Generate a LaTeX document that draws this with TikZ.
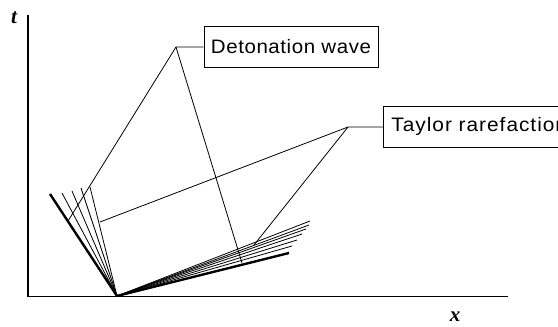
\documentclass[tikz,border=0pt]{standalone}
\usepackage{fontspec}
\newfontfamily\labfont[FakeStretch=1.05,LetterSpace=3]{Liberation Sans}
\newfontfamily\labfontw[FakeStretch=1.07,LetterSpace=5]{Liberation Sans}
\newfontfamily\axfont{Liberation Serif}
\begin{document}
\begin{tikzpicture}[x=1pt,y=-1pt,
  axisline/.style={line width=1.4pt},
  thickray/.style={line width=2.4pt},
  thinray/.style={line width=0.8pt},
  leader/.style={line width=0.8pt},
  labelbox/.style={draw,line width=0.9pt,font=\labfont\fontsize{19.5}{22}\selectfont,minimum height=41pt,inner xsep=6pt,inner ysep=0pt},
  axlabel/.style={font=\axfont\bfseries\itshape\fontsize{21}{23}\selectfont,inner sep=0pt}]
\useasboundingbox (0,0) rectangle (558,327);
\clip (0,0) rectangle (558,327);
% axes
\coordinate (tTop) at (28,15);
\coordinate (orig) at (28,296.5);
\coordinate (xEnd) at (508,296.5);
\draw[axisline] (tTop) -- (orig) -- (xEnd);
\node[axlabel] (tlab) at (14,18) {t};
\node[axlabel] (xlab) at (455,317) {x};
% fan origin
\coordinate (O) at (117,296);
% left fan
\coordinate (L0) at (50,194);
\coordinate (L1) at (62,193);
\coordinate (L2) at (72,191);
\coordinate (L3) at (81,188);
\coordinate (L4) at (90,187);
\draw[thickray] (O) -- (L0);
\foreach \p in {L1,L2,L3,L4} \draw[thinray] (O) -- (\p);
% right fan
\coordinate (R0) at (289,253);
\coordinate (R1) at (292,246);
\coordinate (R2) at (297,240);
\coordinate (R3) at (302,234);
\coordinate (R4) at (306,229);
\coordinate (R5) at (309,225);
\coordinate (R6) at (310,221);
\draw[thickray] (O) -- (R0);
\foreach \p in {R1,R2,R3,R4,R5,R6} \draw[thinray] (O) -- (\p);
% labels
\node[labelbox,minimum width=174pt] (det) at (291,46.5) {Detonation wave};
\node[labelbox,anchor=west,inner xsep=8pt,font=\labfontw\fontsize{19.5}{22}\selectfont] (tay) at (383,126.5) {Taylor rarefaction};
% leaders
\coordinate (dj) at (176,47);
\coordinate (dL) at (68,221);
\coordinate (dR) at (242,263);
\draw[leader] (det.west |- dj) -- (dj) -- (dL);
\draw[leader] (dj) -- (dR);
\coordinate (tj) at (348,127);
\coordinate (tL) at (100,222);
\coordinate (tR) at (254,245);
\draw[leader] (tay.west |- tj) -- (tj) -- (tL);
\draw[leader] (tj) -- (tR);
\end{tikzpicture}
\end{document}
